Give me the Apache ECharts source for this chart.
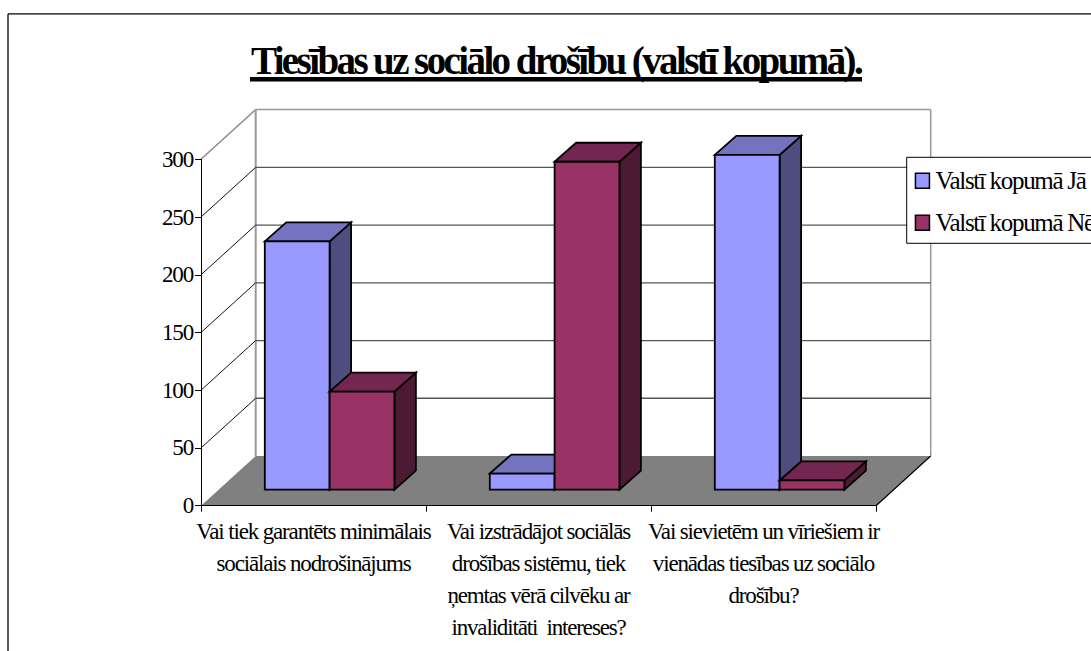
<!DOCTYPE html>
<html><head><meta charset="utf-8">
<style>html,body{margin:0;padding:0;background:#fff;overflow:hidden}#c{width:1091px;height:651px}
#c svg text{letter-spacing:-1.15px}
#c svg text[style*="39px"]{letter-spacing:-2.6px}
#c svg text[style*="25px"]{letter-spacing:-1.3px}
</style>
<script src="https://cdn.jsdelivr.net/npm/echarts@6/dist/echarts.min.js"></script>
</head><body><div id="c"></div>
<script>
const titleText='Tiesības uz sociālo drošību (valstī kopumā).';
const categories=['Vai tiek garantēts minimālais\nsociālais nodrošinājums','Vai izstrādājot sociālās\ndrošības sistēmu, tiek\nņemtas vērā cilvēku ar\ninvaliditāti  intereses?','Vai sievietēm un vīriešiem ir\nvienādas tiesības uz sociālo\ndrošību?'];
const nameYes='Valstī kopumā Jā';
const nameNo='Valstī kopumā Nē';
const valuesYes=[215,14,290];
const valuesNo=[85,284,8];
const yTicks=[0,50,100,150,200,250,300];

const FONT='"Liberation Serif","Times New Roman",serif';
const WALL_DX=54.7,WALL_DY=-49.7,BASE_DY=-16,BAR_LEFT=63.8,BAR_W=64.8,BAR_DX=21.5,BAR_DY=-19;
const edge={stroke:'#000',lineWidth:1.8};

function poly(points,fill,st){return {type:'polygon',shape:{points},style:Object.assign({fill},st||{})};}
function line(p,q,stroke,lineWidth){return {type:'line',shape:{x1:p[0],y1:p[1],x2:q[0],y2:q[1]},style:{stroke,lineWidth}};}

function renderWalls(params,api){
  const band=api.size([1,0])[0];
  const c0=api.coord([0,0]),top=api.coord([0,300])[1];
  const L=c0[0]-band/2,R=L+band*3,B=c0[1];
  const bx=WALL_DX,by=WALL_DY;
  return {type:'group',children:[
    poly([[L+bx,top+by],[R+bx,top+by],[R+bx,B+by],[L+bx,B+by]],'#fff'),
    poly([[L,B],[L+bx,B+by],[R+bx,B+by],[R,B]],'#808080'),
    line([L,top],[L+bx,top+by],'#8a8a8a',1.5),
    line([L+bx,top+by],[R+bx,top+by],'#999',1.5),
    line([L+bx,top+by],[L+bx,B+by],'#999',2),
    line([R+bx,top+by],[R+bx,B+by],'#999',1.5),
    line([R,B],[R+bx,B+by],'#000',1.2)
  ]};
}
function renderGrid(params,api){
  const v=api.value(1);
  const band=api.size([1,0])[0];
  const c=api.coord([0,v]);
  const L=c[0]-band/2,R=L+band*3,y=c[1];
  return {type:'group',children:[
    line([L,y],[L+WALL_DX,y+WALL_DY],'#111',1),
    line([L+WALL_DX,y+WALL_DY],[R+WALL_DX,y+WALL_DY],'#555',1.3)
  ]};
}
function barRenderer(slot,front,topC,side){
  return function(params,api){
    const i=api.value(0),v=api.value(1);
    const band=api.size([1,0])[0];
    const c=api.coord([i,0]),t=api.coord([i,v]);
    const x0=c[0]-band/2+BAR_LEFT+slot*BAR_W,x1=x0+BAR_W;
    const y0=c[1]+BASE_DY,y1=t[1]+BASE_DY;
    return {type:'group',children:[
      poly([[x1,y1],[x1+BAR_DX,y1+BAR_DY],[x1+BAR_DX,y0+BAR_DY],[x1,y0]],side,edge),
      poly([[x0,y1],[x0+BAR_DX,y1+BAR_DY],[x1+BAR_DX,y1+BAR_DY],[x1,y1]],topC,edge),
      poly([[x0,y1],[x1,y1],[x1,y0],[x0,y0]],front,edge)
    ]};
  };
}
const chart=echarts.init(document.getElementById('c'),null,{renderer:'svg'});
chart.setOption({
  animation:false,
  backgroundColor:'#fff',
  textStyle:{fontFamily:FONT,color:'#000'},
  title:{text:titleText,left:551,top:36,textAlign:'center',textStyle:{fontFamily:FONT,fontSize:39,fontWeight:'bold',color:'#000'}},
  legend:{orient:'vertical',left:906.7,top:157.3,padding:[11,20,8,8],itemWidth:14,itemHeight:15,itemGap:17,
    backgroundColor:'#fff',borderColor:'#000',borderWidth:1,z:20,itemStyle:{borderColor:'#000',borderWidth:1.5},
    textStyle:{fontFamily:FONT,fontSize:25,color:'#000',padding:[0,0,0,1]},
    data:[{name:nameYes,icon:'rect',itemStyle:{color:'#9999FF'}},{name:nameNo,icon:'rect',itemStyle:{color:'#993366'}}]},
  grid:{left:201,width:675,top:159.3,height:346.4},
  xAxis:{type:'category',data:categories,z:10,
    axisLine:{lineStyle:{color:'#000',width:1}},axisTick:{show:true,length:6,lineStyle:{color:'#000'}},
    axisLabel:{interval:0,color:'#000',fontFamily:FONT,fontSize:23,lineHeight:32,margin:10}},
  yAxis:{type:'value',min:0,max:300,interval:50,z:10,
    axisLine:{show:true,lineStyle:{color:'#000',width:1}},axisTick:{show:true,length:6,lineStyle:{color:'#000'}},
    axisLabel:{color:'#000',fontFamily:FONT,fontSize:23,margin:8,padding:[0,0,4,0]},splitLine:{show:false}},
  graphic:[
    {type:'line',shape:{x1:8,y1:651,x2:8,y2:14},style:{stroke:'#333',lineWidth:1.6},silent:true},
    {type:'line',shape:{x1:8,y1:13.8,x2:1091,y2:13.8},style:{stroke:'#000',lineWidth:1.2},silent:true},
    {type:'rect',shape:{x:250,y:77,width:612,height:4.6},style:{fill:'#000'},silent:true}
  ],
  series:[
    {type:'custom',name:'walls',z:1,silent:true,renderItem:renderWalls,data:[[0,0]]},
    {type:'custom',name:'grid',z:2,silent:true,renderItem:renderGrid,data:yTicks.slice(1,6).map(v=>[0,v])},
    {type:'custom',name:nameYes,z:3,renderItem:barRenderer(0,'#9999FF','#7373BF','#4D4D80'),data:valuesYes.map((v,i)=>[i,v])},
    {type:'custom',name:nameNo,z:4,renderItem:barRenderer(1,'#993366','#732650','#4D1A33'),data:valuesNo.map((v,i)=>[i,v])}
  ]
});
</script></body></html>
